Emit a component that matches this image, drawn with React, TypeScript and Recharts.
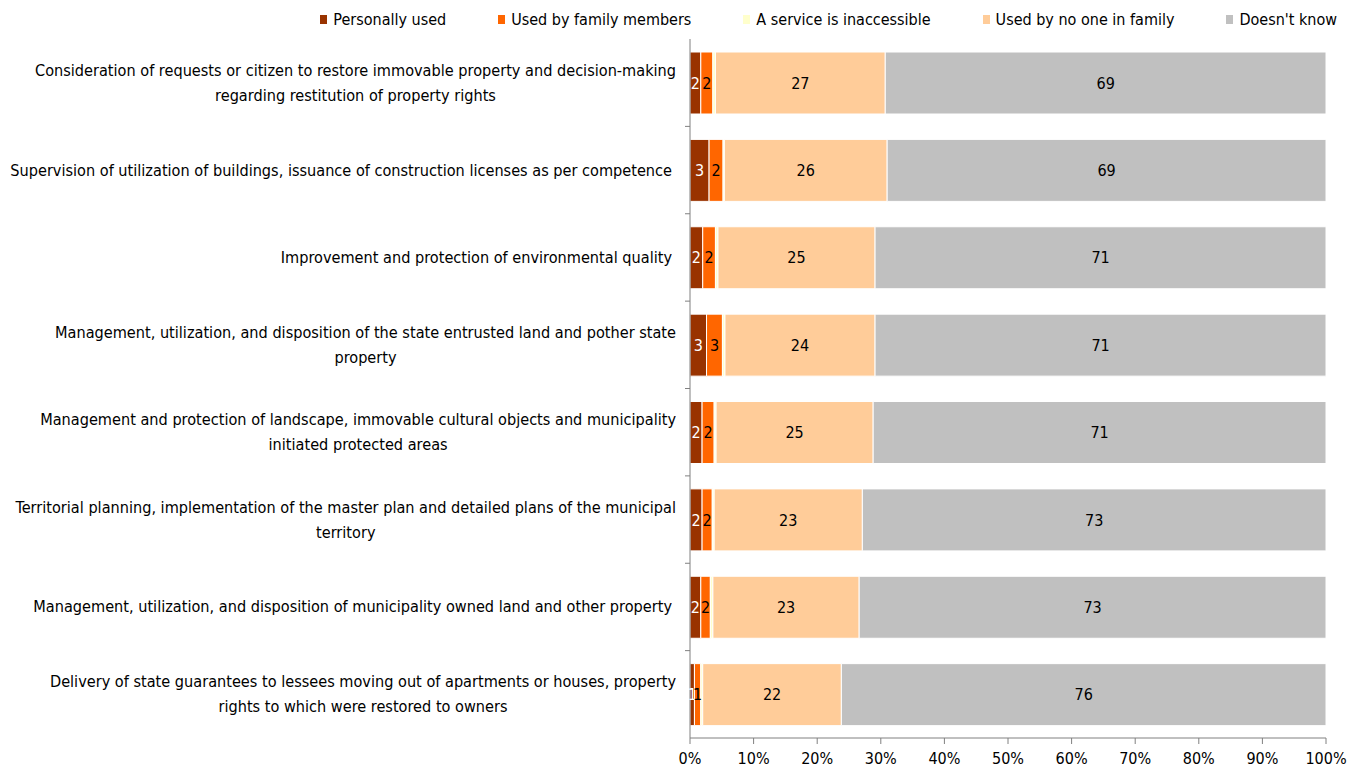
import React from 'react';
import { BarChart, Bar, XAxis, YAxis, Legend, LabelList } from 'recharts';

const categories = [
  'Consideration of requests or citizen to restore immovable property and decision-making\nregarding restitution of property rights',
  'Supervision of utilization of buildings, issuance of construction licenses as per competence',
  'Improvement and protection of environmental quality',
  'Management, utilization, and disposition of the state entrusted land and pother state\nproperty',
  'Management and protection of landscape, immovable cultural objects and municipality\ninitiated protected areas',
  'Territorial planning, implementation of the master plan and detailed plans of the municipal\nterritory',
  'Management, utilization, and disposition of municipality owned land and other property',
  'Delivery of state guarantees to lessees moving out of apartments or houses, property\nrights to which were restored to owners',
];

const personallyUsed = [1.7, 3.0, 2.0, 2.6, 1.9, 1.9, 1.7, 0.7];
const usedByFamily = [1.9, 2.2, 2.0, 2.5, 1.9, 1.6, 1.5, 1.0];
const serviceInaccessible = [0.4, 0.2, 0.4, 0.4, 0.3, 0.3, 0.4, 0.3];
const usedByNoOne = [26.7, 25.6, 24.7, 23.6, 24.7, 23.3, 23.0, 21.8];
const doesntKnow = [69.3, 69.0, 70.9, 70.9, 71.2, 72.9, 73.4, 76.2];

const seriesKeys = ['personal', 'family', 'inaccessible', 'noOne', 'dontKnow'];
const seriesNames = [
  'Personally used',
  'Used by family members',
  'A service is inaccessible',
  'Used by no one in family',
  "Doesn't know",
];
const seriesColors = ['#993300', '#FF6600', '#FFFFCC', '#FFCC99', '#C0C0C0'];
const labelColors = ['#FFFFFF', '#000000', null, '#000000', '#000000'];
const xTicks = [0, 10, 20, 30, 40, 50, 60, 70, 80, 90, 100];

const data = categories.map((category, i) => ({
  category,
  personal: personallyUsed[i],
  family: usedByFamily[i],
  inaccessible: serviceInaccessible[i],
  noOne: usedByNoOne[i],
  dontKnow: doesntKnow[i],
}));

const FONT = '"DejaVu Sans Condensed", "DejaVu Sans", sans-serif';
const AXIS_COLOR = '#808080';

const CHART_W = 1364;
const CHART_H = 776;
const LEGEND_H = 39;
const X_AXIS_H = 38;
const PLOT_H = CHART_H - LEGEND_H - X_AXIS_H;

function YTick(props: any) {
  const { x, y, payload, index } = props;
  const half = payload && payload.offset ? payload.offset : PLOT_H / categories.length / 2;
  const lines: string[] = String(payload.value).split('\n');
  const single = lines.length === 1;
  return (
    <g>
      {index < categories.length - 1 && (
        <line x1={x - 5} x2={x} y1={y + half} y2={y + half} stroke={AXIS_COLOR} strokeWidth={1} />
      )}
      <foreignObject x={0} y={y - half} width={x - (single ? 18 : 14)} height={half * 2}>
        <div
          style={{
            width: '100%',
            height: '100%',
            display: 'flex',
            justifyContent: 'flex-end',
            alignItems: 'center',
          }}
        >
          <div
            style={{
              textAlign: 'center',
              fontFamily: FONT,
              fontSize: 16.15,
              lineHeight: '25px',
              color: '#000',
              whiteSpace: 'nowrap',
            }}
          >
            {lines.map((l, i) => (
              <div key={i}>{l}</div>
            ))}
          </div>
        </div>
      </foreignObject>
    </g>
  );
}

function LegendContent() {
  return (
    <div
      style={{
        height: LEGEND_H,
        display: 'flex',
        justifyContent: 'flex-end',
        alignItems: 'center',
        paddingRight: 27,
        paddingBottom: 0,
        boxSizing: 'border-box',
        fontFamily: FONT,
        fontSize: 16,
        color: '#000',
      }}
    >
      {seriesNames.map((name, i) => (
        <div key={name} style={{ display: 'flex', alignItems: 'center', marginLeft: i === 0 ? 0 : 52 }}>
          <span
            style={{
              display: 'inline-block',
              width: 7,
              height: 9,
              background: seriesColors[i],
              marginRight: 6,
            }}
          />
          <span style={{ whiteSpace: 'nowrap' }}>{name}</span>
        </div>
      ))}
    </div>
  );
}

const fmt = (v: any) => {
  const n = Number(v);
  return isNaN(n) ? '' : String(Math.round(n));
};

export default function App() {
  return (
    <div style={{ position: 'absolute', left: 0, top: 0, width: CHART_W, height: CHART_H, background: '#fff' }}>
      <BarChart
        width={CHART_W}
        height={CHART_H}
        data={data}
        layout="vertical"
        margin={{ top: 0, right: 38, bottom: 0, left: 0 }}
        barSize={62}
      >
        <Legend
          verticalAlign="top"
          align="right"
          content={() => <LegendContent />}
          wrapperStyle={{ left: 0, top: 0, width: CHART_W }}
        />
        <XAxis
          type="number"
          domain={[0, 100]}
          ticks={xTicks}
          allowDataOverflow
          tickFormatter={(v) => `${v}%`}
          height={X_AXIS_H}
          axisLine={{ stroke: AXIS_COLOR }}
          tickLine={{ stroke: AXIS_COLOR }}
          tickSize={6}
          tickMargin={9}
          tick={{ fill: '#000', fontSize: 16, fontFamily: FONT }}
          interval={0}
        />
        <YAxis
          type="category"
          dataKey="category"
          width={690}
          axisLine={{ stroke: AXIS_COLOR }}
          tickLine={false}
          tickSize={0}
          tickMargin={0}
          tick={<YTick />}
          interval={0}
        />
        {seriesKeys.map((key, i) => (
          <Bar
            key={key}
            dataKey={key}
            name={seriesNames[i]}
            stackId="a"
            fill={seriesColors[i]}
            stroke="#FFFFFF"
            strokeWidth={1}
            isAnimationActive={false}
          >
            {labelColors[i] && (
              <LabelList
                dataKey={key}
                position="center"
                formatter={fmt}
                fill={labelColors[i] as string}
                style={{ fontFamily: FONT, fontSize: 16 }}
              />
            )}
          </Bar>
        ))}
      </BarChart>
    </div>
  );
}
